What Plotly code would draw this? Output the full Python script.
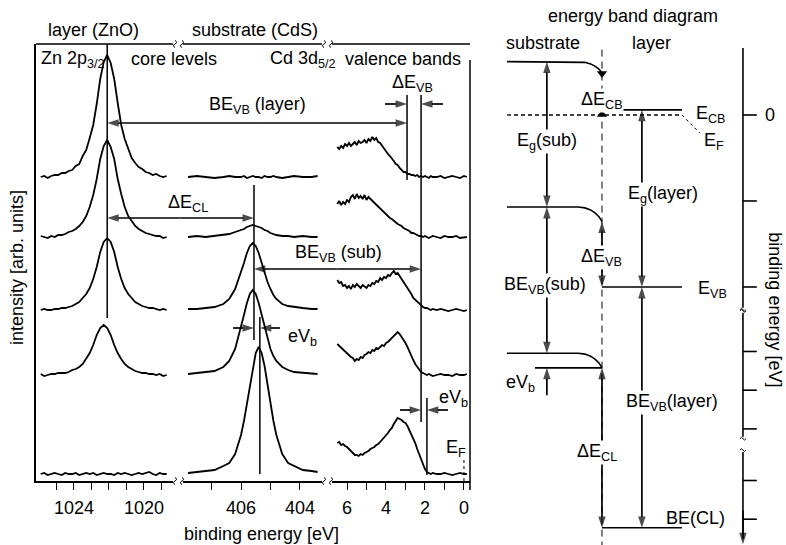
import plotly.graph_objects as go

W, H = 786, 545
FONT = "Liberation Sans, Arial, Helvetica, sans-serif"

# ------------------------------------------------------------------ data
# Zn 2p3/2 (layer) core level spectra, top (row 0) to bottom (row 4)
zn_be = [1025.9, 1025.7, 1025.5, 1025.3, 1025.1, 1024.9, 1024.7, 1024.5, 1024.3, 1024.1,
         1023.9, 1023.7, 1023.5, 1023.3, 1023.1, 1022.9, 1022.7, 1022.5, 1022.3, 1022.1,
         1021.9, 1021.7, 1021.5, 1021.3, 1021.1, 1020.9, 1020.7, 1020.5, 1020.3, 1020.1,
         1019.9, 1019.7, 1019.5, 1019.3, 1019.1, 1018.9, 1018.7]
zn_row0 = [0, 1, -1, 1, 2, 2, 4, 4, 6, 7, 11, 13, 21, 27, 39, 52, 73, 98, 115, 122,
           114, 98, 74, 52, 38, 28, 19, 14, 10, 8, 5, 4, 2, 3, 1, 0, 1]
zn_row1 = [1, 0, -1, 1, 0, 2, 2, 3, 5, 6, 8, 11, 15, 21, 30, 42, 58, 78, 91, 97,
           90, 78, 58, 43, 30, 21, 16, 11, 8, 6, 4, 3, 2, 1, 1, -1, 0]
zn_row2 = [0, 1, 0, 0, 1, 1, 2, 2, 3, 4, 6, 8, 12, 16, 22, 31, 43, 58, 68, 72,
           68, 58, 43, 31, 22, 16, 12, 8, 6, 4, 3, 2, 2, 1, 0, 1, 0]
zn_row3 = [1, -1, 0, 1, 1, 2, 2, 2, 3, 5, 6, 8, 11, 16, 22, 30, 40, 47, 50, 47,
           40, 30, 22, 16, 11, 8, 6, 4, 3, 2, 2, 1, 1, 0, 1, -1, 0]
zn_row4 = [0, 1, -1, 0, 1, 0, -1, 1, 0, 0, 1, -1, 0, 1, 0, 1, -1, 0, 1, 0,
           0, -1, 1, 0, 1, 0, -1, 0, 1, 0, 1, 2, 0, -1, 1, 0, 0]
zn_int = [zn_row0, zn_row1, zn_row2, zn_row3, zn_row4]

# Cd 3d5/2 (substrate) core level spectra
cd_be = [407.8, 407.5, 407.2, 406.9, 406.6, 406.4, 406.2, 406.0, 405.9, 405.8,
         405.7, 405.6, 405.5, 405.4, 405.3, 405.2, 405.1, 405.0, 404.9, 404.8,
         404.6, 404.4, 404.2, 403.9, 403.6, 403.4]
cd_row0 = [0, 1, 0, -1, 0, 1, 0, 0, 1, -1, 0, 1, 0, 0, -1, 1, 0, 0, 1, 0, -1, 0, 1, 0, 0, 1]
cd_row1 = [0, 1, 0, 1, 2, 3, 5, 7, 8, 10, 11, 12, 11, 10, 9, 7, 6, 4, 3, 2, 1, 1, 0, 1, 0, 0]
cd_row2 = [1, 1, 2, 3, 6, 11, 21, 37, 47, 57, 64, 67, 64, 57, 47, 37, 28, 21, 15, 11, 6, 4, 3, 2, 1, 1]
cd_row3 = [1, 2, 3, 4, 8, 14, 26, 47, 60, 72, 81, 85, 81, 72, 60, 47, 36, 26, 19, 14, 8, 5, 3, 2, 1, 1]
cd_row4 = [1, 2, 3, 4, 8, 11, 20, 39, 53, 70, 89, 108, 121, 127, 121, 108, 89, 70, 53, 39, 20, 11, 8, 4, 3, 2]
cd_int = [cd_row0, cd_row1, cd_row2, cd_row3, cd_row4]

# valence band spectra
vb_be = [6.5, 6.4, 6.3, 6.2, 6.1, 6.0, 5.9, 5.8, 5.7, 5.6,
         5.5, 5.4, 5.3, 5.2, 5.1, 5.0, 4.9, 4.8, 4.7, 4.6,
         4.5, 4.4, 4.3, 4.2, 4.1, 4.0, 3.9, 3.8, 3.7, 3.6,
         3.5, 3.4, 3.3, 3.2, 3.1, 3.0, 2.9, 2.8, 2.7, 2.6,
         2.5, 2.4, 2.3, 2.2, 2.1, 2.0, 1.9, 1.8, 1.7, 1.6,
         1.4, 1.2, 1.0, 0.8, 0.6, 0.4, 0.2, 0.0, -0.15]
vb_row0 = [30, 28, 31, 29, 33, 31, 34, 31, 33, 35, 32, 36, 34, 35, 37, 34, 38, 36, 40, 37,
           39, 35, 34, 31, 29, 26, 23, 21, 19, 16, 13, 12, 9, 7, 5, 5, 3, 3, 2, 2,
           1, 2, 0, 1, 0, 1, 0, -1, 1, 0, 0, 1, -1, 0, 1, 0, -1, 1, 0]
vb_row1 = [33, 36, 32, 35, 33, 37, 35, 40, 42, 38, 43, 39, 41, 38, 42, 37, 40, 38, 36, 35,
           33, 31, 29, 27, 24, 23, 21, 19, 18, 16, 15, 13, 12, 11, 9, 8, 7, 6, 4, 4,
           3, 2, 1, 1, 0, 1, 0, -1, 0, 1, 0, -1, 1, 0, 0, 1, -1, 0, 0]
vb_row2 = [30, 27, 28, 24, 25, 22, 24, 21, 25, 23, 26, 24, 22, 25, 23, 22, 25, 24, 27, 26,
           29, 28, 32, 30, 33, 32, 35, 34, 37, 39, 36, 37, 34, 31, 29, 25, 22, 19, 16, 12,
           10, 8, 6, 4, 3, 2, 2, 1, 0, 1, 0, 1, 0, -1, 0, 1, 0, -1, 0]
vb_row3 = [31, 29, 27, 25, 24, 21, 20, 18, 17, 14, 16, 15, 18, 17, 20, 21, 23, 22, 25, 24,
           27, 26, 28, 30, 29, 32, 33, 35, 36, 39, 40, 43, 41, 38, 36, 32, 28, 23, 19, 15,
           11, 8, 5, 3, 2, 1, 0, 1, 0, -1, 0, 1, 0, 0, -1, 1, 0, 0, 1]
vb_row4 = [31, 32, 29, 30, 28, 27, 25, 23, 21, 19, 19, 18, 20, 19, 21, 22, 23, 25, 26, 27,
           29, 30, 32, 34, 36, 39, 41, 44, 46, 50, 53, 56, 55, 54, 52, 51, 48, 44, 40, 36,
           31, 25, 20, 14, 9, 5, 2, 1, 0, 1, 0, 0, 1, 0, -1, 0, 1, 0, 0]
vb_int = [vb_row0, vb_row1, vb_row2, vb_row3, vb_row4]

row_offset = [304, 244, 171, 106, 7]          # vertical stacking of the spectra

# characteristic binding energies (eV)
zn_layer = 1022.1
cd_interface = 405.56
cd_bulk = 405.36
vbm_layer = 2.92
vbm_sub = 2.20
vbm_bulk = 1.90
e_fermi = 0.0

# tick values of the three spectral panels
zn_ticks, zn_minor = [1024, 1020], [1025, 1023, 1022, 1021, 1019]
cd_ticks, cd_minor = [406, 404], [407, 405]
vb_ticks, vb_minor = [6, 4, 2, 0], [5, 3, 1]

# schematic band diagram (binding energy in eV, E_F = 0); (flat, interface)
cb_sub = (-0.62, -0.49)
vb_sub = (1.07, 1.24)
cl_sub = (2.77, 2.94)
cb_layer = -0.06
vb_layer = 2.00
cl_layer = 4.80
be_axis_ticks = [0, 1.0, 2.0, 2.75, 3.2, 3.65, 4.25, 4.7]
be_axis_segments = [(-0.78, 2.24), (2.30, 3.74), (3.92, 4.93)]
bend_x = [-1.0, -0.25, -0.18, -0.12, -0.07, -0.03, 0.0]
bend_frac = [0, 0, 0.06, 0.2, 0.42, 0.68, 1.0]

# ------------------------------------------------------------------ layout helpers
PANEL = {  # axis : (left px, right px, range left, range right)
    'x': (36, 173, 1026.17, 1018.34),
    'x2': (183, 322, 407.97, 403.25),
    'x3': (332, 470, 6.77, -0.31),
}
Y_PX = (481, 44)
Y_RANGE = (0, 437)


def X(ax, v):
    l, r, a, b = PANEL[ax]
    return l + (v - a) / (b - a) * (r - l)


def Y(v):
    return Y_PX[0] + (v - Y_RANGE[0]) / (Y_RANGE[1] - Y_RANGE[0]) * (Y_PX[1] - Y_PX[0])


LINE = dict(color='black', width=1.8)
fig = go.Figure()
annotations = []
shapes = []

# spectra
for i in range(5):
    fig.add_trace(go.Scatter(x=zn_be, y=[v + row_offset[i] for v in zn_int[i]],
                             xaxis='x', yaxis='y', mode='lines', line=LINE, hoverinfo='skip'))
    fig.add_trace(go.Scatter(x=cd_be, y=[v + row_offset[i] for v in cd_int[i]],
                             xaxis='x2', yaxis='y', mode='lines', line=LINE, hoverinfo='skip'))
    fig.add_trace(go.Scatter(x=vb_be, y=[v + row_offset[i] for v in vb_int[i]],
                             xaxis='x3', yaxis='y', mode='lines', line=LINE, hoverinfo='skip'))


def vline(ax, x, y0, y1, width=1.5, dash='solid'):
    shapes.append(dict(type='line', xref=ax, yref='y', x0=x, x1=x, y0=y0, y1=y1,
                       line=dict(color='black', width=width, dash=dash)))


vline('x', zn_layer, 163, 437)
vline('x2', cd_interface, 141, 296)
vline('x2', cd_bulk, 7, 164)
vline('x3', vbm_layer, 301, 386)
vline('x3', vbm_sub, 59, 386)
vline('x3', vbm_bulk, 6, 83)
vline('x3', e_fermi, 0, 23, width=1, dash='dot')


def pline(x0, y0, x1, y1, width=1.5):
    # line on the full-page pixel overlay axes (x5 / y5)
    shapes.append(dict(type='line', xref='x5', yref='y5', x0=x0, x1=x1, y0=y0, y1=y1,
                       line=dict(color='black', width=width)))


def squiggle(xc, yc, vertical=True, s=3.5):
    if vertical:
        p = f"M{xc},{yc - s} Q{xc + s * 0.9},{yc - s * 0.5} {xc},{yc} Q{xc - s * 0.9},{yc + s * 0.5} {xc},{yc + s}"
    else:
        p = f"M{xc - s},{yc} Q{xc - s * 0.5},{yc - s * 0.9} {xc},{yc} Q{xc + s * 0.5},{yc + s * 0.9} {xc + s},{yc}"
    shapes.append(dict(type='path', xref='x5', yref='y5', path=p,
                       line=dict(color='black', width=1)))


for ax in ['x', 'x2', 'x3']:
    l, r, _, _ = PANEL[ax]
    pline(l, Y_PX[1], r, Y_PX[1])
pline(470, 60, 470, 490)
for xb in [PANEL['x'][1] + 2, PANEL['x2'][0] - 1, PANEL['x2'][1] + 2, PANEL['x3'][0] - 1]:
    squiggle(xb, Y_PX[0], True)
    squiggle(xb, Y_PX[1], True)


def arrow(xa, ya, x0, y0, x1, y1, width=1.7, size=12):
    """arrow drawn from tail (x0, y0) to head (x1, y1)"""
    fig.add_trace(go.Scatter(x=[x0, x1], y=[y0, y1], xaxis=xa, yaxis=ya, mode='lines+markers',
                             line=dict(color='black', width=width),
                             marker=dict(symbol='arrow', size=[0, size], angleref='previous',
                                         color='black', line=dict(width=0)),
                             hoverinfo='skip', cliponaxis=False))


def darrow(xa, ya, x0, y0, x1, y1):
    xm, ym = (x0 + x1) / 2, (y0 + y1) / 2
    arrow(xa, ya, xm, ym, x0, y0)
    arrow(xa, ya, xm, ym, x1, y1)


def label(x, y, text, xanchor='center', angle=0, size=18):
    annotations.append(dict(xref='x5', yref='y5', x=x, y=y, text=text,
                            showarrow=False, xanchor=xanchor, yanchor='middle',
                            textangle=angle, font=dict(size=size, color='black', family=FONT)))


# arrows between spectra (pixel positions obtained from the panel scales)
P = ('x5', 'y5')
darrow(*P, X('x', zn_layer), Y(358), X('x3', vbm_layer), Y(358))
arrow(*P, X('x3', 4.05), Y(377), X('x3', vbm_layer), Y(377))
arrow(*P, X('x3', 1.08), Y(377), X('x3', vbm_sub), Y(377))
darrow(*P, X('x', zn_layer), Y(263), X('x2', cd_interface), Y(263))
darrow(*P, X('x2', cd_interface), Y(212), X('x3', vbm_sub), Y(212))
arrow(*P, X('x2', 406.27), Y(153), X('x2', cd_interface), Y(153))
arrow(*P, X('x2', 404.68), Y(153), X('x2', cd_bulk), Y(153))
arrow(*P, X('x3', 3.28), Y(71), X('x3', vbm_sub), Y(71))
arrow(*P, X('x3', 0.82), Y(71), X('x3', vbm_bulk), Y(71))

label(257, 105, "BE<sub>VB</sub> (layer)")
label(412, 83, "ΔE<sub>VB</sub>")
label(188, 203, "ΔE<sub>CL</sub>")
label(338, 253, "BE<sub>VB</sub> (sub)")
label(302, 337, "eV<sub>b</sub>")
label(453, 398, "eV<sub>b</sub>")
label(456, 448, "E<sub>F</sub>")

label(93, 30, "layer (ZnO)")
label(255, 30, "substrate (CdS)")
label(39, 59, "Zn 2p<sub>3/2</sub>", xanchor='left')
label(174, 59, "core levels")
label(268, 59, "Cd 3d<sub>5/2</sub>", xanchor='left')
label(343, 59, "valence bands", xanchor='left')
label(17, 268, "intensity [arb. units]", angle=-90)
label(261, 534, "binding energy [eV]")
label(633, 16, "energy band diagram")
label(543, 43, "substrate")
label(651, 43, "layer")

# ------------------------------------------------------------------ band diagram
def band(x, y, dash='solid', width=1.6):
    fig.add_trace(go.Scatter(x=x, y=y, xaxis='x4', yaxis='y4', mode='lines',
                             line=dict(color='black', width=width, dash=dash), hoverinfo='skip'))


band([0, 0], [-0.76, 5.0], dash='7px,5px', width=1)
for lev in [cb_sub, vb_sub, cl_sub]:
    band(bend_x, [lev[0] + f * (lev[1] - lev[0]) for f in bend_frac])
band([0, 0.842], [cb_layer, cb_layer])
band([-1.0, 0.842], [e_fermi, e_fermi], dash='4px,3px', width=1.3)
band([0.842, 1.03], [e_fermi, 0.21], dash='dot', width=1)
band([0, 0.842], [vb_layer, vb_layer])
band([0, 0.842], [cl_layer, cl_layer])
band([-0.705, 0], [cl_sub[1], cl_sub[1]])

# binding-energy axis with breaks
ax_x, ax_y = [], []
for s0, s1 in be_axis_segments:
    ax_x += [1.484, 1.484, None]
    ax_y += [s0, s1, None]
for t in be_axis_ticks:
    ax_x += [1.484, 1.63, None]
    ax_y += [t, t, None]
band(ax_x, ax_y)
for s0, s1 in be_axis_segments:
    for yy in (s0, s1):
        if yy < 4.9 and yy > -0.7:
            squiggle(743, 115 + yy * 86 + (2 if yy == s1 else -2), False, s=3)

fig.add_trace(go.Scatter(x=[0, 0], y=[-0.483, -0.006], xaxis='x4', yaxis='y4', mode='markers',
                         marker=dict(symbol=['triangle-down', 'triangle-up'], size=9, color='black'),
                         hoverinfo='skip'))

B = ('x4', 'y4')
darrow(*B, -0.58, cb_sub[0], -0.58, vb_sub[0])
darrow(*B, -0.58, vb_sub[0], -0.58, cl_sub[0])
darrow(*B, 0.42, cb_layer, 0.42, vb_layer)
darrow(*B, 0.42, vb_layer, 0.42, cl_layer)
darrow(*B, 0, vb_sub[1], 0, vb_layer)
darrow(*B, 0, cl_sub[1], 0, cl_layer)
arrow(*B, -0.58, 3.26, -0.58, cl_sub[1])
arrow(*B, 1.484, 4.6, 1.484, 4.99)


def blabel(x, y, text, xanchor='center', bg='white', angle=0):
    annotations.append(dict(xref='x4', yref='y4', x=x, y=y, text=text, showarrow=False,
                            xanchor=xanchor, yanchor='middle', bgcolor=bg, borderpad=0,
                            textangle=angle, font=dict(size=18, color='black', family=FONT)))


NOBG = 'rgba(0,0,0,0)'
blabel(0, -0.17, "ΔE<sub>CB</sub>")
blabel(-0.58, 0.31, "E<sub>g</sub>(sub)")
blabel(0.64, 0.93, "E<sub>g</sub>(layer)")
blabel(0, 1.66, "ΔE<sub>VB</sub>")
blabel(-0.6, 1.98, "BE<sub>VB</sub>(sub)")
blabel(-0.863, 3.12, "eV<sub>b</sub>", bg=NOBG)
blabel(0.737, 3.34, "BE<sub>VB</sub>(layer)")
blabel(-0.05, 3.92, "ΔE<sub>CL</sub>")
blabel(0.98, -0.01, "E<sub>CB</sub>", xanchor='left', bg=NOBG)
blabel(1.063, 0.31, "E<sub>F</sub>", xanchor='left', bg=NOBG)
blabel(1.0, 2.03, "E<sub>VB</sub>", xanchor='left', bg=NOBG)
blabel(0.663, 4.69, "BE(CL)", xanchor='left', bg=NOBG)
blabel(1.768, 0, "0", bg=NOBG)
blabel(1.82, 2.27, "binding energy [eV]", bg=NOBG, angle=90)


# ------------------------------------------------------------------ axes
def xax(ax, tickvals, minorvals):
    l, r, a, b = PANEL[ax]
    return dict(domain=[l / W, r / W], range=[a, b], anchor='y', showgrid=False,
                zeroline=False, showline=True, linecolor='black', linewidth=1.5,
                ticks='outside', ticklen=7, tickwidth=1.3, tickcolor='black',
                tickmode='array', tickvals=tickvals,
                minor=dict(tickmode='array', tickvals=minorvals, ticks='outside', ticklen=7,
                           tickwidth=1.3, tickcolor='black', showgrid=False),
                tickfont=dict(size=18, color='black', family=FONT), ticklabelstandoff=3)


fig.update_layout(
    width=W, height=H, margin=dict(l=0, r=0, t=0, b=0),
    paper_bgcolor='white', plot_bgcolor='rgba(0,0,0,0)', showlegend=False,
    font=dict(family=FONT, size=18, color='black'),
    xaxis=xax('x', zn_ticks, zn_minor),
    xaxis2=xax('x2', cd_ticks, cd_minor),
    xaxis3=xax('x3', vb_ticks, vb_minor),
    yaxis=dict(domain=[1 - Y_PX[0] / H, 1 - Y_PX[1] / H], range=list(Y_RANGE), anchor='x',
               showgrid=False, zeroline=False, showline=True, linecolor='black',
               linewidth=1.5, ticks='', showticklabels=False),
    xaxis4=dict(domain=[480 / W, 1], range=[-1.284, 1.937], anchor='y4', visible=False),
    yaxis4=dict(domain=[0, 1], range=[5.0, -1.337], anchor='x4', visible=False),
    xaxis5=dict(domain=[0, 1], range=[0, W], anchor='y5', visible=False),
    yaxis5=dict(domain=[0, 1], range=[H, 0], anchor='x5', visible=False),
    shapes=shapes, annotations=annotations,
)

fig.write_html("out.html")
